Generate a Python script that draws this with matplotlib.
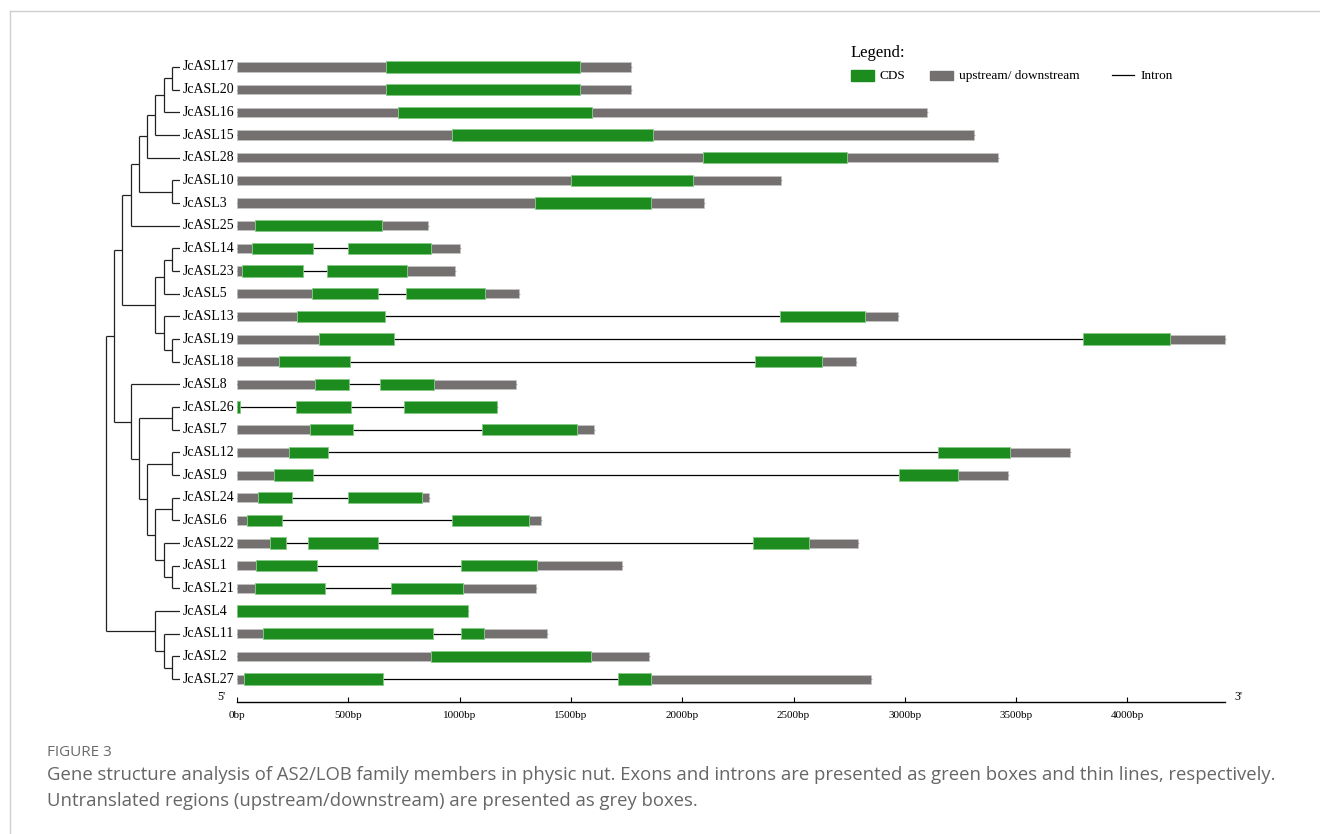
import matplotlib
matplotlib.use("Agg")
import matplotlib.pyplot as plt
from matplotlib.patches import Rectangle

plt.rcParams['font.family'] = ['Liberation Serif', 'DejaVu Serif']

# gene order (top to bottom) as it comes out of the tree
genes = ['JcASL17', 'JcASL20', 'JcASL16', 'JcASL15', 'JcASL28', 'JcASL10', 'JcASL3',
         'JcASL25', 'JcASL14', 'JcASL23', 'JcASL5', 'JcASL13', 'JcASL19', 'JcASL18',
         'JcASL8', 'JcASL26', 'JcASL7', 'JcASL12', 'JcASL9', 'JcASL24', 'JcASL6',
         'JcASL22', 'JcASL1', 'JcASL21', 'JcASL4', 'JcASL11', 'JcASL2', 'JcASL27']

# total gene length in bp
gene_len = [1768, 1768, 3100, 3312, 3420, 2443, 2099, 858, 1002, 981, 1267, 2970, 4440,
            2780, 1253, 1168, 1604, 3742, 3464, 864, 1365, 2790, 1730, 1343, 1038, 1392,
            1851, 2850]

# CDS exons (start, end) in bp
cds = [
    [(669, 1541)],
    [(669, 1541)],
    [(723, 1596)],
    [(966, 1870)],
    [(2095, 2742)],
    [(1500, 2049)],
    [(1339, 1859)],
    [(81, 651)],
    [(66, 340), (497, 870)],
    [(24, 298), (406, 764)],
    [(337, 634), (759, 1114)],
    [(270, 663), (2440, 2819)],
    [(368, 705), (3800, 4191)],
    [(189, 508), (2325, 2628)],
    [(350, 503), (643, 885)],
    [(0, 15), (265, 512), (748, 1168)],
    [(328, 520), (1102, 1527)],
    [(235, 411), (3149, 3473)],
    [(167, 342), (2976, 3239)],
    [(95, 248), (497, 831)],
    [(43, 202), (964, 1313)],
    [(148, 221), (321, 632), (2320, 2570)],
    [(85, 358), (1007, 1348)],
    [(81, 396), (692, 1017)],
    [(0, 1038)],
    [(115, 880), (1007, 1108)],
    [(870, 1590)],
    [(31, 655), (1710, 1860)],
]

# phylogeny as nested pairs
clade_a = (((((((('JcASL17', 'JcASL20'), 'JcASL16'), 'JcASL15'), 'JcASL28'),
              ('JcASL10', 'JcASL3')), 'JcASL25'),
            ((('JcASL14', 'JcASL23'), 'JcASL5'), ('JcASL13', ('JcASL19', 'JcASL18')))))
clade_b = ('JcASL8', (('JcASL26', 'JcASL7'),
                      (('JcASL12', 'JcASL9'),
                       (('JcASL24', 'JcASL6'), ('JcASL22', ('JcASL1', 'JcASL21'))))))
clade_c = ('JcASL4', ('JcASL11', ('JcASL2', 'JcASL27')))
tree = ((clade_a, clade_b), clade_c)

tick_vals = [0, 500, 1000, 1500, 2000, 2500, 3000, 3500, 4000]
tick_labels = [f'{v}bp' for v in tick_vals]
axis_end = 4440

CDS_COLOR = '#1c8c1f'
UTR_COLOR = '#747070'

W, H = 1320, 834
fig = plt.figure(figsize=(W / 100, H / 100), dpi=100)

# gene structure panel: x in bp, y in rows
px_per_bp = 0.2226
row_px = 22.67
top_px, bot_px = 40, 730
left_px, right_px = 237, 1240
ax = fig.add_axes([left_px / W, 1 - bot_px / H, (right_px - left_px) / W, (bot_px - top_px) / H])
ax.set_xlim(0, (right_px - left_px) / px_per_bp)
ax.set_ylim((bot_px - 67) / row_px, (top_px - 67) / row_px)
ax.axis('off')

for i, (length, exons) in enumerate(zip(gene_len, cds)):
    ax.plot([0, length], [i, i], color='black', lw=0.9, zorder=1)
    first, last = exons[0][0], exons[-1][1]
    utrs = []
    if first > 0:
        utrs.append((0, first))
    if last < length:
        utrs.append((last, length))
    for s, e in utrs:
        ax.barh(i, e - s, left=s, height=0.4, color=UTR_COLOR, edgecolor='#c4c4c4', lw=0.5, zorder=2)
    for s, e in exons:
        ax.barh(i, e - s, left=s, height=0.5, color=CDS_COLOR, edgecolor='#86c986', lw=0.6, zorder=3)

# bp scale
y_axis = len(genes)
ax.plot([0, axis_end], [y_axis, y_axis], color='black', lw=1.0, clip_on=False)
ax.vlines(tick_vals, y_axis - 0.22, y_axis, color='black', lw=0.8)
for v, lab in zip(tick_vals, tick_labels):
    ax.text(v, y_axis + 0.62, lab, ha='center', va='center', fontsize=8)
ax.text(-50, y_axis - 0.2, "5'", ha='right', va='center', fontsize=8.5)
ax.text(axis_end + 40, y_axis - 0.2, "3'", ha='left', va='center', fontsize=8.5)

# tree panel: x is node height (0 at the tips)
step_px = 8.22
tree_left = 180 - 10 * step_px
axt = fig.add_axes([tree_left / W, 1 - bot_px / H, (180 - tree_left) / W, (bot_px - top_px) / H])
axt.set_xlim(-10, 0)
axt.set_ylim(ax.get_ylim())
axt.axis('off')


def draw_node(node):
    if isinstance(node, str):
        return 0, genes.index(node)
    pts = [draw_node(ch) for ch in node]
    h = max(p[0] for p in pts) + 1
    ys = [p[1] for p in pts]
    y = sum(ys) / len(ys)
    for ch_h, ch_y in pts:
        axt.plot([-h, -ch_h], [ch_y, ch_y], color='#222222', lw=0.9, solid_capstyle='butt')
    axt.plot([-h, -h], [min(ys), max(ys)], color='#222222', lw=0.9, solid_capstyle='butt')
    return h, y


draw_node(tree)
for i, g in enumerate(genes):
    axt.text(0.35, i, g, ha='left', va='center', fontsize=10, clip_on=False)

# legend, caption and page frame in pixel coordinates
ov = fig.add_axes([0, 0, 1, 1], zorder=-1)
ov.set_xlim(0, W)
ov.set_ylim(H, 0)
ov.axis('off')
ov.plot([9.5, 9.5], [11, H], color='#cfcfcf', lw=1)
ov.plot([9.5, W], [11, 11], color='#cfcfcf', lw=1)

ov.text(851, 53, 'Legend:', fontsize=12, va='center', ha='left')
ov.add_patch(Rectangle((851, 70), 23, 10.5, color=CDS_COLOR))
ov.text(879, 76, 'CDS', fontsize=9.5, va='center', ha='left')
ov.add_patch(Rectangle((930, 71), 22.5, 8.5, color=UTR_COLOR))
ov.text(959, 76, 'upstream/ downstream', fontsize=9.5, va='center', ha='left')
ov.plot([1111.5, 1134], [74.5, 74.5], color='black', lw=0.9)
ov.text(1140, 76, 'Intron', fontsize=9.5, va='center', ha='left')

cap_font = ['Open Sans', 'DejaVu Sans']
ov.text(47, 753, 'FIGURE 3', fontsize=11, color='#6a6a6a', va='center', ha='left', family=cap_font)
ov.text(47, 775, 'Gene structure analysis of AS2/LOB family members in physic nut. Exons and introns '
        'are presented as green boxes and thin lines, respectively.',
        fontsize=13.3, color='#666666', va='center', ha='left', family=cap_font)
ov.text(47, 801, 'Untranslated regions (upstream/downstream) are presented as grey boxes.',
        fontsize=13.3, color='#666666', va='center', ha='left', family=cap_font)

fig.savefig('out.png', dpi=100)
